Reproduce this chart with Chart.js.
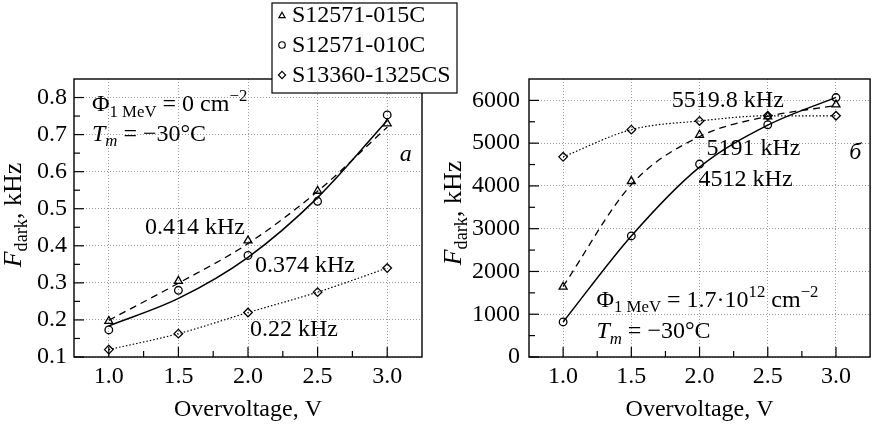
<!DOCTYPE html>
<html>
<head>
<meta charset="utf-8">
<script src="https://cdn.jsdelivr.net/npm/chart.js@4.4.0/dist/chart.umd.min.js"></script>
<style>
    html, body { margin: 0; padding: 0; background: #fff; }
    #wrap { position: relative; width: 876px; height: 426px; }
    #wrap canvas { position: absolute; left: 0; top: 0; }
</style>
</head>
<body>
<div id="wrap">
    <canvas id="chartA" width="876" height="426"></canvas>
    <canvas id="chartB" width="876" height="426"></canvas>
</div>
<script>
// ---- data ----
const voltages = [1.0, 1.5, 2.0, 2.5, 3.0];
const seriesNames = ['S12571-015C', 'S12571-010C', 'S13360-1325CS'];

// panel a (kHz), fluence 0
const a015 = [0.197, 0.305, 0.414, 0.548, 0.730];
const a010 = [0.173, 0.280, 0.374, 0.520, 0.753];
const a1325 = [0.120, 0.163, 0.220, 0.275, 0.340];
const a015Fit = [0.199, 0.299, 0.406, 0.547, 0.720];
const a010Fit = [0.184, 0.258, 0.369, 0.530, 0.738];

// panel б (kHz), fluence 1.7e12
const b015 = [1640, 4110, 5191, 5620, 5900];
const b010 = [820, 2830, 4512, 5430, 6066];
const b1325 = [4680, 5316, 5519.8, 5640, 5640];
const b015Fit = [1650, 4030, 5155, 5625, 5880];
const b010Fit = [820, 2830, 4440, 5420, 6070];

// ticks
const xTicks = [1.0, 1.5, 2.0, 2.5, 3.0];
const xMinor = [1.25, 1.75, 2.25, 2.75];
const yTicksA = [0.1, 0.2, 0.3, 0.4, 0.5, 0.6, 0.7, 0.8];
const yMinorA = [0.15, 0.25, 0.35, 0.45, 0.55, 0.65, 0.75];
const yTicksB = [0, 1000, 2000, 3000, 4000, 5000, 6000];
const yMinorB = [500, 1500, 2500, 3500, 4500, 5500];

const FONT = '"Liberation Serif", "DejaVu Serif", serif';
const FS = 24;

const toXY = arr => arr.map((v, i) => ({ x: voltages[i], y: v }));

function fitLine(data, dash, width) {
    return {
        data, borderColor: '#000', borderWidth: width, borderDash: dash,
        pointRadius: 0, fill: false, cubicInterpolationMode: 'monotone'
    };
}
function markers(label, data, style, r) {
    return {
        label, data, showLine: false, pointStyle: style, pointRadius: r,
        pointBorderColor: '#000', pointBackgroundColor: 'rgba(255,255,255,0)',
        pointBorderWidth: 1.3
    };
}

// rich text: runs of {t, it, sub, sup}
function drawRich(ctx, x, y, runs, size, measureOnly) {
    let cx = x;
    runs.forEach(r => {
        const s = (r.sub || r.sup) ? size * 0.7 : size;
        ctx.font = (r.it ? 'italic ' : '') + s + 'px ' + FONT;
        const dy = r.sub ? size * 0.24 : r.sup ? -size * 0.4 : 0;
        if (!measureOnly) ctx.fillText(r.t, cx, y + dy);
        cx += ctx.measureText(r.t).width;
    });
    return cx - x;
}

const frame = {
    id: 'frame',
    afterDatasetsDraw(chart, args, opts) {
        const { ctx, chartArea: a, scales: { x, y } } = chart;
        ctx.save();
        ctx.strokeStyle = '#000';
        ctx.lineWidth = 1.2;
        const tick = (vals, len) => {
            vals.forEach(v => {
                const px = x.getPixelForValue(v);
                ctx.beginPath(); ctx.moveTo(px, a.bottom); ctx.lineTo(px, a.bottom - len); ctx.stroke();
            });
        };
        const ytick = (vals, len) => {
            vals.forEach(v => {
                const py = y.getPixelForValue(v);
                ctx.beginPath(); ctx.moveTo(a.left, py); ctx.lineTo(a.left + len, py); ctx.stroke();
            });
        };
        tick(xTicks, 10); tick(xMinor, 6);
        ytick(opts.yMajor, 10); ytick(opts.yMinor, 6);
        ctx.lineWidth = 1.4;
        ctx.strokeRect(a.left, a.top, a.right - a.left, a.bottom - a.top);

        // y title
        const runs = [{ t: 'F', it: 1 }, { t: 'dark', sub: 1 }, { t: ', kHz' }];
        ctx.fillStyle = '#000';
        ctx.textBaseline = 'alphabetic';
        ctx.textAlign = 'left';
        const w = drawRich(ctx, 0, 0, runs, 26, true);
        ctx.translate(opts.titleX, opts.titleY);
        ctx.rotate(-Math.PI / 2);
        drawRich(ctx, -w / 2, 0, runs, 26);
        ctx.restore();

        // annotations in data coordinates
        ctx.save();
        ctx.fillStyle = '#000';
        ctx.textBaseline = 'alphabetic';
        ctx.textAlign = 'left';
        opts.notes.forEach(n => {
            drawRich(ctx, x.getPixelForValue(n.x), y.getPixelForValue(n.y), n.runs, FS);
        });
        ctx.restore();
    }
};

function drawMarker(ctx, style, cx, cy, r) {
    ctx.beginPath();
    if (style === 'circle') ctx.arc(cx, cy, r * 0.9, 0, Math.PI * 2);
    else if (style === 'triangle') {
        for (let i = 0; i < 3; i++) {
            const ang = i * 2 * Math.PI / 3;
            const px = cx + Math.sin(ang) * r, py = cy - Math.cos(ang) * r + r * 0.25;
            i ? ctx.lineTo(px, py) : ctx.moveTo(px, py);
        }
        ctx.closePath();
    } else {
        ctx.moveTo(cx, cy - r); ctx.lineTo(cx + r, cy); ctx.lineTo(cx, cy + r); ctx.lineTo(cx - r, cy); ctx.closePath();
    }
    ctx.stroke();
}

const legendBox = {
    id: 'legendBox',
    afterDraw(chart) {
        const { ctx } = chart;
        ctx.save();
        ctx.fillStyle = '#fff';
        ctx.fillRect(272, 3, 185, 90);
        ctx.strokeStyle = '#000';
        ctx.lineWidth = 1.2;
        ctx.strokeRect(272, 3, 185, 90);
        const styles = ['triangle', 'circle', 'rectRot'];
        ctx.fillStyle = '#000';
        ctx.font = FS + 'px ' + FONT;
        ctx.textBaseline = 'alphabetic';
        seriesNames.forEach((name, i) => {
            const by = 22 + i * 30;
            ctx.lineWidth = 1.2;
            drawMarker(ctx, styles[i], 282, by - 7, 3.6);
            ctx.fillText(name, 292, by);
        });
        ctx.restore();
    }
};

function scalesFor(ymin, ymax, yTicks, yAxisWidth, yPad, yFmt) {
    const grid = { color: '#9a9a9a', lineWidth: 1, drawTicks: false };
    return {
        x: {
            type: 'linear', min: 0.75, max: 3.25,
            afterBuildTicks: s => { s.ticks = xTicks.map(v => ({ value: v })); },
            afterFit: s => { s.height = 69; },
            grid, border: { display: false, dash: [1, 2] },
            ticks: { color: '#000', font: { family: FONT, size: FS }, padding: 5, maxRotation: 0,
                     callback: v => v.toFixed(1) },
            title: { display: true, text: 'Overvoltage, V', color: '#000',
                     font: { family: FONT, size: FS }, padding: { top: 0, bottom: 2 } }
        },
        y: {
            type: 'linear', min: ymin, max: ymax,
            afterBuildTicks: s => { s.ticks = yTicks.map(v => ({ value: v })); },
            afterFit: s => { s.width = yAxisWidth; },
            grid, border: { display: false, dash: [1, 2] },
            ticks: { color: '#000', font: { family: FONT, size: FS }, padding: yPad, callback: yFmt }
        }
    };
}

const commonOpts = {
    responsive: false, animation: false, devicePixelRatio: 1,
    plugins: { legend: { display: false }, tooltip: { enabled: false } },
    elements: { line: { tension: 0.4 } }
};

const phi = (rest) => [{ t: 'Φ' }, { t: '1 MeV', sub: 1 }].concat(rest);
const tm = [{ t: 'T', it: 1 }, { t: 'm', sub: 1, it: 1 }, { t: ' = −30°C' }];

new Chart(document.getElementById('chartA'), {
    type: 'line',
    data: {
        datasets: [
            fitLine(toXY(a015Fit), [7, 5], 1.3),
            fitLine(toXY(a010Fit), [], 1.5),
            fitLine(toXY(a1325), [1.5, 2], 1.2),
            markers(seriesNames[0], toXY(a015), 'triangle', 4.6),
            markers(seriesNames[1], toXY(a010), 'circle', 3.8),
            markers(seriesNames[2], toXY(a1325), 'rectRot', 4.3)
        ]
    },
    options: Object.assign({}, commonOpts, {
        layout: { padding: { left: 0, right: 454, top: 79, bottom: 0 } },
        scales: scalesFor(0.1, 0.85, yTicksA, 74, 7, v => v.toFixed(1)),
        plugins: Object.assign({}, commonOpts.plugins, {
            frame: {
                yMajor: yTicksA, yMinor: yMinorA, titleX: 21, titleY: 215,
                notes: [
                    { x: 0.879, y: 0.764, runs: phi([{ t: ' = 0 cm' }, { t: '−2', sup: 1 }]) },
                    { x: 0.879, y: 0.684, runs: tm },
                    { x: 3.09, y: 0.630, runs: [{ t: 'а', it: 1 }] },
                    { x: 1.26, y: 0.433, runs: [{ t: '0.414 kHz' }] },
                    { x: 2.05, y: 0.328, runs: [{ t: '0.374 kHz' }] },
                    { x: 2.014, y: 0.158, runs: [{ t: '0.22 kHz' }] }
                ]
            }
        })
    }),
    plugins: [frame]
});

new Chart(document.getElementById('chartB'), {
    type: 'line',
    data: {
        datasets: [
            fitLine(toXY(b015Fit), [7, 5], 1.3),
            fitLine(toXY(b010Fit), [], 1.5),
            fitLine(toXY(b1325), [1.5, 2], 1.2),
            markers(seriesNames[0], toXY(b015), 'triangle', 4.6),
            markers(seriesNames[1], toXY(b010), 'circle', 3.8),
            markers(seriesNames[2], toXY(b1325), 'rectRot', 4.3)
        ]
    },
    options: Object.assign({}, commonOpts, {
        layout: { padding: { left: 439, right: 3, top: 79, bottom: 0 } },
        scales: scalesFor(0, 6500, yTicksB, 90, 9, v => String(v)),
        plugins: Object.assign({}, commonOpts.plugins, {
            frame: {
                yMajor: yTicksB, yMinor: yMinorB, titleX: 461, titleY: 213,
                notes: [
                    { x: 1.244, y: 1180, runs: phi([{ t: ' = 1.7·10' }, { t: '12', sup: 1 }, { t: ' cm' }, { t: '−2', sup: 1 }]) },
                    { x: 1.244, y: 445, runs: tm },
                    { x: 3.097, y: 4640, runs: [{ t: 'б', it: 1 }] },
                    { x: 1.797, y: 5835, runs: [{ t: '5519.8 kHz' }] },
                    { x: 2.051, y: 4734, runs: [{ t: '5191 kHz' }] },
                    { x: 1.993, y: 4008, runs: [{ t: '4512 kHz' }] }
                ]
            }
        })
    }),
    plugins: [frame, legendBox]
});
</script>
</body>
</html>
